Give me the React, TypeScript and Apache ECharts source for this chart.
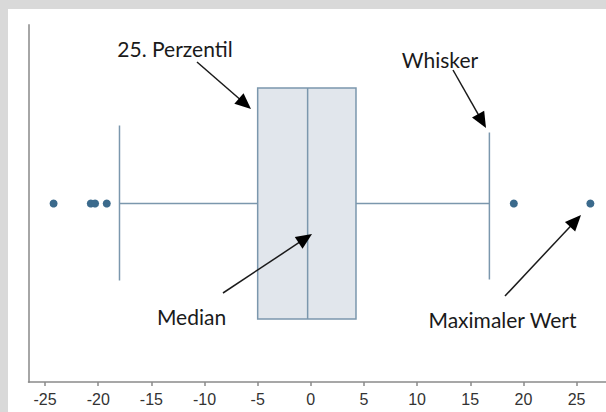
import React, { useEffect, useRef } from "react";
import * as echarts from "echarts";

// ---- data ----
const xTicks = [-25, -20, -15, -10, -5, 0, 5, 10, 15, 20, 25];
// low whisker, 25th percentile, median, 75th percentile, high whisker
const boxStats = [-18.0, -5.0, -0.3, 4.25, 16.8];
const outliers = [-24.2, -20.7, -20.3, -19.2, 19.1, 26.3];
const yCenter = 0.5;

// annotations: label, label centre, arrow start, arrow tip (chart pixels)
const annoLabels = ["25. Perzentil", "Whisker", "Median", "Maximaler Wert"];
const annoTextPos = [
  [167, 39],
  [432, 50.5],
  [183.5, 307.5],
  [494.5, 310],
];
const annoArrowFrom = [
  [189, 53],
  [445, 61],
  [215, 284],
  [497, 287],
];
const annoArrowTo = [
  [243, 100],
  [478, 119],
  [304, 225],
  [573, 206],
];

const BOX_STROKE = "#7b97ad";
const BOX_FILL = "#e1e6ec";
const DOT = "#3b6a8c";

function arrowGraphics() {
  const els: any[] = [];
  annoLabels.forEach((label, i) => {
    const [x0, y0] = annoArrowFrom[i];
    const [x1, y1] = annoArrowTo[i];
    const dx = x1 - x0;
    const dy = y1 - y0;
    const len = Math.sqrt(dx * dx + dy * dy);
    const ux = dx / len;
    const uy = dy / len;
    const headL = 16;
    const headW = 7;
    const bx = x1 - ux * headL;
    const by = y1 - uy * headL;
    els.push({
      type: "line",
      z: 100,
      shape: { x1: x0, y1: y0, x2: bx + ux * 2, y2: by + uy * 2 },
      style: { stroke: "#1a1a1a", lineWidth: 1.5 },
      silent: true,
    });
    els.push({
      type: "polygon",
      z: 100,
      shape: {
        points: [
          [x1, y1],
          [bx - uy * headW, by + ux * headW],
          [bx + uy * headW, by - ux * headW],
        ],
      },
      style: { fill: "#000" },
      silent: true,
    });
    els.push({
      type: "text",
      z: 100,
      x: annoTextPos[i][0],
      y: annoTextPos[i][1],
      style: {
        text: label,
        fill: "#1a1a1a",
        font: '21px "Lato", "Open Sans", sans-serif',
        align: "center",
        verticalAlign: "middle",
      },
      silent: true,
    });
  });
  return els;
}

export default function App() {
  const ref = useRef<HTMLDivElement>(null);

  useEffect(() => {
    document.body.style.margin = "0";
    document.body.style.overflow = "hidden";
    document.body.style.background = "#ffffff";
    document.documentElement.style.overflow = "hidden";
    document.documentElement.style.background = "#ffffff";
    if (!ref.current) return;
    const chart = echarts.init(ref.current, undefined, { renderer: "svg" });
    chart.setOption({
      animation: false,
      backgroundColor: "#ffffff",
      grid: { left: 20.5, right: 0, top: 16, bottom: 30 },
      xAxis: {
        type: "value",
        min: -26.56,
        max: 27.77,
        splitLine: { show: false },
        axisLine: { show: true, onZero: false, lineStyle: { color: "#8a8a8a", width: 1.5 } },
        axisTick: {
          show: true,
          length: 4,
          customValues: xTicks,
          lineStyle: { color: "#8a8a8a", width: 1.5 },
        },
        axisLabel: {
          customValues: xTicks,
          color: "#333333",
          fontFamily: "Liberation Sans",
          fontSize: 16,
          margin: 9,
        },
      },
      yAxis: {
        type: "value",
        min: 0,
        max: 1,
        splitLine: { show: false },
        axisLabel: { show: false },
        axisTick: { show: false },
        axisLine: { show: true, onZero: false, lineStyle: { color: "#a6a6a6", width: 2 } },
      },
      series: [
        {
          type: "custom",
          encode: { x: [0, 1, 2, 3, 4] },
          data: [boxStats],
          renderItem: (params: any, api: any) => {
            const vals = [0, 1, 2, 3, 4].map((d) => api.value(d));
            const pts = vals.map((v) => api.coord([v, yCenter]));
            const cy = pts[0][1];
            const boxH = 115.5;
            const capH = 77;
            const lineStyle = { stroke: BOX_STROKE, lineWidth: 1.5, fill: "none" };
            return {
              type: "group",
              children: [
                {
                  type: "line",
                  shape: { x1: pts[0][0], y1: cy, x2: pts[1][0], y2: cy },
                  style: lineStyle,
                },
                {
                  type: "line",
                  shape: { x1: pts[3][0], y1: cy, x2: pts[4][0], y2: cy },
                  style: lineStyle,
                },
                {
                  type: "line",
                  shape: { x1: pts[0][0], y1: cy - capH - 1, x2: pts[0][0], y2: cy + capH },
                  style: lineStyle,
                },
                {
                  type: "line",
                  shape: { x1: pts[4][0], y1: cy - capH + 6, x2: pts[4][0], y2: cy + capH - 1 },
                  style: lineStyle,
                },
                {
                  type: "rect",
                  shape: {
                    x: pts[1][0],
                    y: cy - boxH,
                    width: pts[3][0] - pts[1][0],
                    height: boxH * 2,
                  },
                  style: { fill: BOX_FILL, stroke: BOX_STROKE, lineWidth: 1.5 },
                },
                {
                  type: "line",
                  shape: { x1: pts[2][0], y1: cy - boxH, x2: pts[2][0], y2: cy + boxH },
                  style: lineStyle,
                },
              ],
            };
          },
          z: 2,
        },
        {
          type: "scatter",
          data: outliers.map((v) => [v, yCenter]),
          symbol: "circle",
          symbolSize: 8,
          itemStyle: { color: DOT, opacity: 1 },
          z: 3,
        },
      ],
      graphic: arrowGraphics(),
    });
    return () => chart.dispose();
  }, []);

  return (
    <div
      style={{
        position: "fixed",
        left: 0,
        top: 0,
        right: 0,
        bottom: 0,
        background: "#ffffff",
        borderLeft: "8px solid #d9d9d9",
        borderTop: "9px solid #d9d9d9",
        boxSizing: "border-box",
        overflow: "hidden",
      }}
    >
      <div ref={ref} style={{ position: "absolute", left: 0, top: 0, width: 598, height: 403 }} />
    </div>
  );
}
